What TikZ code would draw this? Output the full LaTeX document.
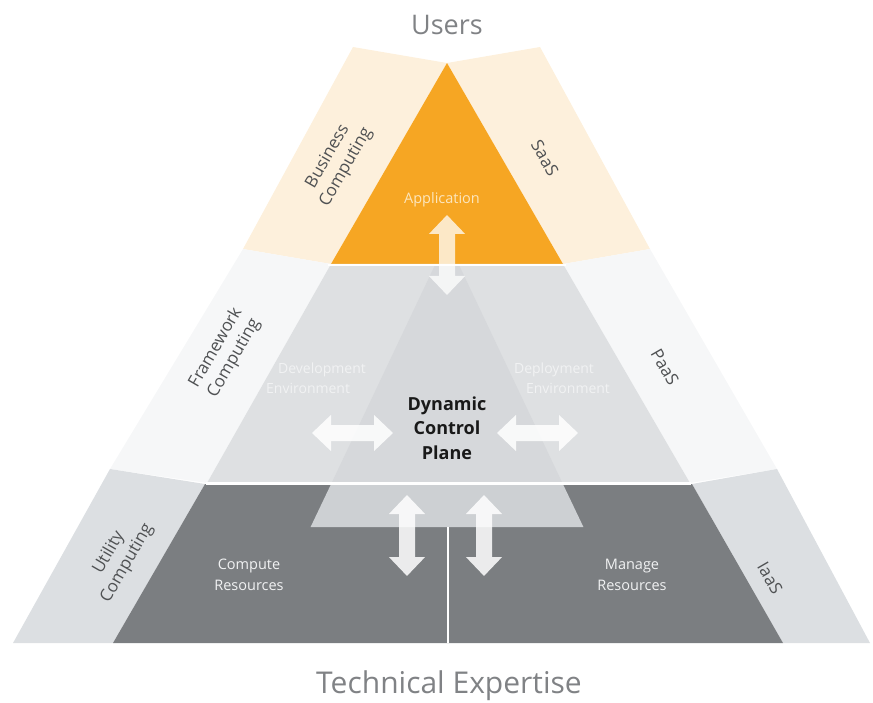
\documentclass[tikz,border=0pt]{standalone}
\usepackage{fontspec}
\setmainfont{Open Sans}
\usetikzlibrary{arrows.meta}
\definecolor{cream}{HTML}{FDF0DC}
\definecolor{orng}{HTML}{F6A623}
\definecolor{paleband}{HTML}{F6F7F8}
\definecolor{sideg}{HTML}{DCDFE2}
\definecolor{midg}{HTML}{DEE0E2}
\definecolor{coreg}{HTML}{D6D8DB}
\definecolor{coreglow}{HTML}{CDD0D3}
\definecolor{darkg}{HTML}{7B7E81}
\definecolor{labelg}{HTML}{4F5153}
\definecolor{titleg}{HTML}{808285}
\definecolor{faintw}{HTML}{F1F2F3}
\definecolor{appw}{HTML}{FCE6BE}
\begin{document}
\begin{tikzpicture}[x=1pt,y=-1pt,
  title/.style={font=\fontsize{27}{30}\selectfont, text=titleg, inner sep=0pt},
  sidelab/.style={font=\fontsize{17}{21}\selectfont, text=labelg, align=center, inner sep=0pt},
  innerlab/.style={font=\fontsize{14}{20}\selectfont, inner sep=0pt},
  fatarrow/.style={white, line width=16pt,
    {Triangle[length=19pt,width=35pt]}-{Triangle[length=19pt,width=35pt]}},
  sep/.style={white, line width=2.5pt}]
\useasboundingbox (0,0) rectangle (873,703);

% --- outer wings ---
\fill[cream] (353,47) -- (447,63) -- (331,264) -- (243,249) -- cycle;
\fill[cream] (540,47) -- (447,63) -- (563,264) -- (650,249) -- cycle;
\fill[paleband] (243,249) -- (331,264) -- (207,483) -- (110,469) -- cycle;
\fill[paleband] (650,249) -- (563,264) -- (690,483) -- (777,469) -- cycle;
\fill[sideg] (110,469) -- (205,484) -- (113,643) -- (13,643) -- cycle;
\fill[sideg] (777,469) -- (692,484) -- (783,643) -- (870,643) -- cycle;

% --- core layers ---
\fill[orng] (447,63) -- (563,264) -- (331,264) -- cycle;
\fill[midg] (331,264) -- (563,264) -- (690,483) -- (207,483) -- cycle;
\fill[darkg] (205,484) -- (692,484) -- (783,643) -- (113,643) -- cycle;
\fill[coreg] (435,265) -- (459,265) -- (562.4,483) -- (331.6,483) -- cycle;
\fill[coreglow] (331.6,483) -- (562.4,483) -- (583.4,527) -- (310.6,527) -- cycle;

% separators
\draw[sep] (328,264.8) -- (566,264.8);
\draw[sep] (206,483.6) -- (691,483.6);
\draw[white, line width=2pt] (448,527) -- (448,643);

% --- arrows ---
\coordinate (ua) at (447,215);
\coordinate (ub) at (447,295);
\coordinate (la) at (312,433);
\coordinate (lb) at (393,433);
\coordinate (ra) at (497,433);
\coordinate (rb) at (578,433);
\coordinate (da) at (407,495);
\coordinate (db) at (407,576);
\coordinate (ea) at (484,495);
\coordinate (eb) at (484,576);
\begin{scope}[transparency group, opacity=0.75]
  \draw[fatarrow] (ua) -- (ub);
\end{scope}
\begin{scope}[transparency group, opacity=0.85]
  \draw[fatarrow] (la) -- (lb);
  \draw[fatarrow] (ra) -- (rb);
  \draw[fatarrow] (da) -- (db);
  \draw[fatarrow] (ea) -- (eb);
\end{scope}

% --- titles ---
\node[title] (users) at (447,25) {Users};
\node[title, font=\fontsize{30}{32}\selectfont] (tech) at (449,686) {Technical Expertise};

% --- side labels ---
\node[sidelab, rotate=60] (bus) at (337,162) {Business\\Computing};
\node[sidelab, rotate=-60] (saas) at (545,158) {SaaS};
\node[sidelab, rotate=60] (fw) at (225,353) {Framework\\Computing};
\node[sidelab, rotate=-60] (paas) at (665,367) {PaaS};
\node[sidelab, rotate=60] (util) at (118,558) {Utility\\Computing};
\node[sidelab, rotate=-60] (iaas) at (770,578) {IaaS};

% --- inner labels ---
\node[innerlab, text=appw, font=\fontsize{14.5}{16}\selectfont] (app) at (442,200) {Application};
\node[innerlab, text=faintw, align=left] (dev) at (316,378) {\hspace{12pt}Development\\Environment};
\node[innerlab, text=faintw, align=left] (dep) at (562,378) {Deployment\\\hspace{12pt}Environment};
\node[inner sep=0pt, align=center, font=\fontsize{18}{24.5}\selectfont\bfseries, text=black!90] (dcp) at (447,428) {Dynamic\\Control\\Plane};
\node[innerlab, text=faintw, align=center, font=\fontsize{14.5}{21}\selectfont] (comp) at (249,575) {Compute\\Resources};
\node[innerlab, text=faintw, align=center, font=\fontsize{14.5}{21}\selectfont] (man) at (632,575) {Manage\\Resources};
\end{tikzpicture}
\end{document}
